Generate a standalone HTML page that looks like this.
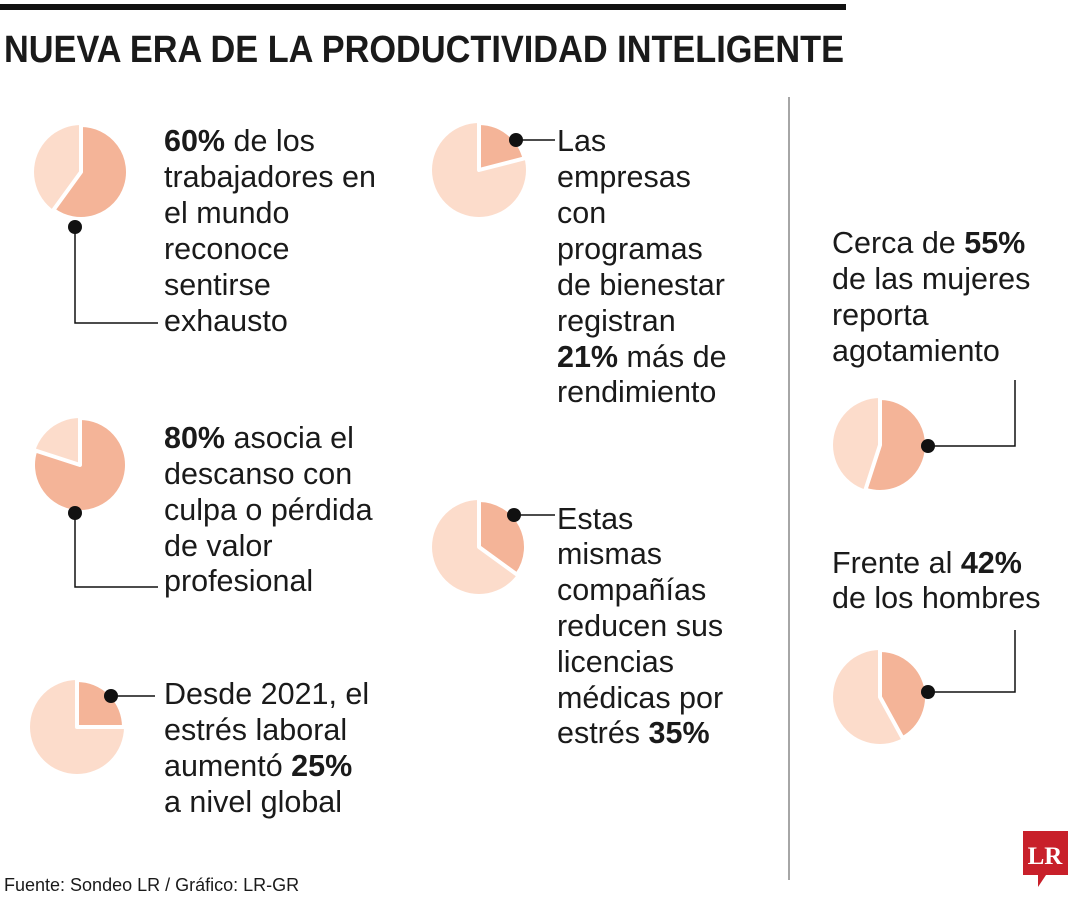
<!DOCTYPE html>
<html><head><meta charset="utf-8"><style>
html,body{margin:0;padding:0;background:#fff}
svg{display:block}
text{font-family:"Liberation Sans",sans-serif;fill:#1a1a1a}
.t{font-size:30.5px}
</style></head><body>
<svg id="chart" width="1080" height="900" viewBox="0 0 1080 900" xmlns="http://www.w3.org/2000/svg">
<rect x="0" y="4" width="846" height="6" fill="#111"/>
<text x="4" y="62" font-size="38" font-weight="bold" textLength="840" lengthAdjust="spacingAndGlyphs">NUEVA ERA DE LA PRODUCTIVIDAD INTELIGENTE</text>
<line x1="789" y1="97" x2="789" y2="880" stroke="#888" stroke-width="1.5"/>
<g id="pies"></g>
<g id="leaders" stroke="#111" stroke-width="1.5" fill="none">
<polyline points="75,227 75,323 158,323"/>
<polyline points="75,513 75,587 158,587"/>
<polyline points="111,696 155,696"/>
<polyline points="516,140 555,140"/>
<polyline points="514,515 555,515"/>
<polyline points="928,446 1015,446 1015,380"/>
<polyline points="928,692 1015,692 1015,630"/>
</g>
<g fill="#111">
<circle cx="75" cy="227" r="7"/><circle cx="75" cy="513" r="7"/><circle cx="111" cy="696" r="7"/>
<circle cx="516" cy="140" r="7"/><circle cx="514" cy="515" r="7"/><circle cx="928" cy="446" r="7"/><circle cx="928" cy="692" r="7"/>
</g>
<g class="t">
<text x="164" y="151"><tspan font-weight="bold">60%</tspan> de los</text>
<text x="164" y="187">trabajadores en</text>
<text x="164" y="223">el mundo</text>
<text x="164" y="259">reconoce</text>
<text x="164" y="295">sentirse</text>
<text x="164" y="331">exhausto</text>
</g>
<g class="t">
<text x="164" y="448"><tspan font-weight="bold">80%</tspan> asocia el</text>
<text x="164" y="484">descanso con</text>
<text x="164" y="520">culpa o pérdida</text>
<text x="164" y="556">de valor</text>
<text x="164" y="591">profesional</text>
</g>
<g class="t">
<text x="164" y="704">Desde 2021, el</text>
<text x="164" y="740">estrés laboral</text>
<text x="164" y="776">aumentó <tspan font-weight="bold">25%</tspan></text>
<text x="164" y="812">a nivel global</text>
</g>
<g class="t">
<text x="557" y="151">Las</text>
<text x="557" y="187">empresas</text>
<text x="557" y="223">con</text>
<text x="557" y="259">programas</text>
<text x="557" y="295">de bienestar</text>
<text x="557" y="331">registran</text>
<text x="557" y="367"><tspan font-weight="bold">21%</tspan> más de</text>
<text x="557" y="402">rendimiento</text>
</g>
<g class="t">
<text x="557" y="529">Estas</text>
<text x="557" y="564">mismas</text>
<text x="557" y="600">compañías</text>
<text x="557" y="636">reducen sus</text>
<text x="557" y="672">licencias</text>
<text x="557" y="708">médicas por</text>
<text x="557" y="743">estrés <tspan font-weight="bold">35%</tspan></text>
</g>
<g class="t">
<text x="832" y="253">Cerca de <tspan font-weight="bold">55%</tspan></text>
<text x="832" y="289">de las mujeres</text>
<text x="832" y="325">reporta</text>
<text x="832" y="361">agotamiento</text>
</g>
<g class="t">
<text x="832" y="573">Frente al <tspan font-weight="bold">42%</tspan></text>
<text x="832" y="608">de los hombres</text>
</g>
<text x="4" y="891" font-size="18">Fuente: Sondeo LR / Gráfico: LR-GR</text>
<g>
<path d="M1023,831 h45 v44 h-22 l-8,12 v-12 h-15 z" fill="#c8202a"/>
<text x="1045" y="864" font-size="25" font-weight="bold" text-anchor="middle" style="font-family:'Liberation Serif',serif;fill:#fff">LR</text>
</g>
</svg>
<script>
const pieLabels = ["trabajadores-exhaustos","descanso-culpa","estres-laboral","bienestar-rendimiento","licencias-medicas","mujeres-agotamiento","hombres-agotamiento"];
const pieValues = [60, 80, 25, 21, 35, 55, 42];
const pieCx = [81, 80, 77, 479, 479, 880, 880];
const pieCy = [172, 465, 727, 170, 547, 445, 697];
const R = 47;
const NS = "http://www.w3.org/2000/svg";
const g = document.getElementById('pies');
function pt(cx, cy, frac){const a = frac*2*Math.PI; return [cx + R*Math.sin(a), cy - R*Math.cos(a)];}
pieValues.forEach((v, i) => {
  const cx = pieCx[i], cy = pieCy[i], f = v/100;
  const bg = document.createElementNS(NS, 'circle');
  bg.setAttribute('cx', cx); bg.setAttribute('cy', cy); bg.setAttribute('r', R);
  bg.setAttribute('fill', '#fcdccb');
  
  
  g.appendChild(bg);
  const [x1, y1] = pt(cx, cy, 0), [x2, y2] = pt(cx, cy, f);
  const p = document.createElementNS(NS, 'path');
  p.setAttribute('d', `M${cx},${cy} L${x1},${y1} A${R},${R} 0 ${f > 0.5 ? 1 : 0} 1 ${x2},${y2} Z`);
  p.setAttribute('fill', '#f4b498');
  p.setAttribute('stroke', '#fff');
  p.setAttribute('stroke-width', '4');
  p.setAttribute('stroke-linejoin', 'round');
  
  
  g.appendChild(p);
});
</script>
</body></html>
